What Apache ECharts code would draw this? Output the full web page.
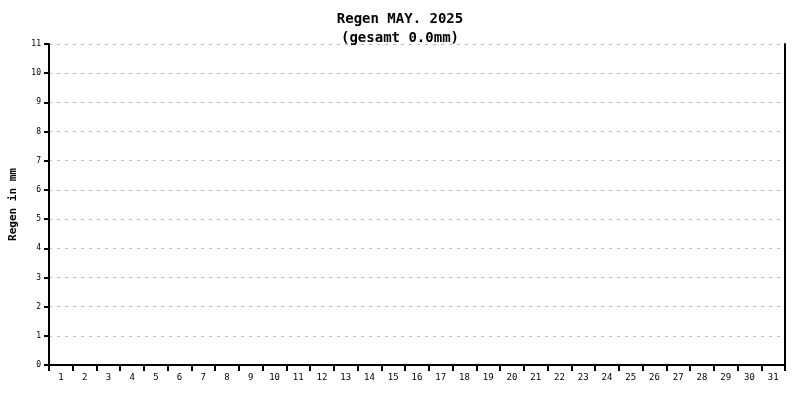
<!DOCTYPE html><html><head><meta charset="utf-8">
<script src="https://cdn.jsdelivr.net/npm/echarts@6/dist/echarts.min.js"></script>
<style>html,body{margin:0;background:#fff}#c{width:800px;height:400px}</style></head><body><div id="c"></div>
<script>
const days = Array.from({length:31},(_,i)=>String(i+1));
const rain = [0,0,0,0,0,0,0,0,0,0,0,0,0,0,0,0,0,0,0,0,0,0,0,0,0,0,0,0,0,0,0];
const titleLines = ['Regen MAY. 2025','(gesamt 0.0mm)'];
const yLabel = 'Regen in mm';
const F = '"DejaVu Sans Mono","Liberation Mono",monospace';
const c = echarts.init(document.getElementById('c'),null,{renderer:'canvas'});
c.setOption({
  animation:false,
  title:{text:titleLines.join('\n'),left:'center',top:5,textStyle:{fontFamily:F,fontSize:14,fontWeight:'bold',color:'#000',lineHeight:19}},
  grid:{left:43,right:15,top:44,bottom:35},
  xAxis:{type:'category',data:days,boundaryGap:true,
    axisLine:{lineStyle:{color:'#000',width:2}},
    axisTick:{show:true,length:6,lineStyle:{color:'#000',width:2}},
    axisLabel:{fontFamily:F,fontSize:9,color:'#000',margin:8,interval:0}},
  yAxis:[{type:'value',min:0,max:11,interval:1,name:yLabel,nameLocation:'middle',nameGap:30,
    nameTextStyle:{fontFamily:F,fontSize:11,fontWeight:'bold',color:'#000'},
    axisLine:{show:true,lineStyle:{color:'#000',width:2}},
    axisTick:{show:true,length:5,lineStyle:{color:'#000',width:2}},
    axisLabel:{fontFamily:F,fontSize:8,color:'#000',margin:8},
    splitLine:{lineStyle:{color:'#bbb',type:[3,5]}}},
   {type:'value',min:0,max:11,interval:1,position:'right',
    axisLine:{show:true,lineStyle:{color:'#000',width:2}},axisTick:{show:false},axisLabel:{show:false},splitLine:{show:false}}],
  series:[{type:'bar',data:rain,itemStyle:{color:'#3366cc'}}]
});
</script></body></html>
